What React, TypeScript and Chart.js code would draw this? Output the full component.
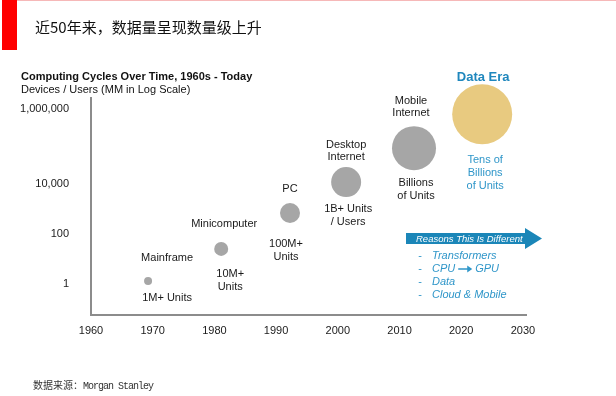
import React, { useEffect, useRef } from "react";
import { Chart, registerables } from "chart.js";

Chart.register(...registerables);

// ---- data ----
const eras = ["Mainframe", "Minicomputer", "PC", "Desktop Internet", "Mobile Internet", "Data Era"];
const eraNameLines = [["Mainframe"], ["Minicomputer"], ["PC"], ["Desktop", "Internet"], ["Mobile", "Internet"], ["Data Era"]];
const eraUnitLines = [["1M+ Units"], ["10M+", "Units"], ["100M+", "Units"], ["1B+ Units", "/ Users"], ["Billions", "of Units"], ["Tens of", "Billions", "of Units"]];
const eraYears = [1969.25, 1981.1, 1992.25, 2001.35, 2012.35, 2023.4];
const eraLogDevices = [0.11, 1.4, 2.84, 4.08, 5.44, 6.8]; // log10(MM devices/users)
const eraBubbleRadius = [4, 7, 10, 15, 22, 30];
const xTickValues = [1960, 1970, 1980, 1990, 2000, 2010, 2020, 2030];
const yTickValues = [0, 2, 4, 7];
const yTickLabels = ["1", "100", "10,000", "1,000,000"];
const reasons = ["Transformers", "CPU→GPU", "Data", "Cloud & Mobile"];

// ---- styles / layout ----
const FONT = "'Liberation Sans', Arial, sans-serif";
const GRAY = "#a6a6a6";
const GOLD = "#e8ca80";
const BLUE = "#2f96c9";
const BLUE_DARK = "#1f87bd";
const BANNER = "#1b86b8";
const bubbleColors = [GRAY, GRAY, GRAY, GRAY, GRAY, GOLD];
// first-line centre offsets relative to bubble centre
const nameOffsets = [[19, -23], [3, -25], [0, -24], [0, -37], [-3, -47], [1, -37]];
const unitOffsets = [[19, 17], [9, 25], [-4, 31], [2, 27], [2, 35], [3, 46]];
const LINE_H = 13;

const annotationPlugin = {
  id: "annotations",
  afterDatasetsDraw(chart: any) {
    const ctx = chart.ctx as CanvasRenderingContext2D;
    const meta = chart.getDatasetMeta(0);
    ctx.save();
    ctx.textAlign = "center";
    ctx.textBaseline = "middle";
    meta.data.forEach((el: any, i: number) => {
      const { x, y } = el.getProps(["x", "y"], true);
      const isData = i === eras.length - 1;
      // name
      ctx.font = isData ? `bold 13px ${FONT}` : `11px ${FONT}`;
      ctx.fillStyle = isData ? BLUE_DARK : "#1a1a1a";
      eraNameLines[i].forEach((t, k) => {
        ctx.fillText(t, x + nameOffsets[i][0], y + nameOffsets[i][1] + k * (LINE_H - 1));
      });
      // units
      ctx.font = `11px ${FONT}`;
      ctx.fillStyle = isData ? BLUE : "#1a1a1a";
      eraUnitLines[i].forEach((t, k) => {
        ctx.fillText(t, x + unitOffsets[i][0], y + unitOffsets[i][1] + k * LINE_H);
      });
    });

    // banner arrow
    const ca = chart.chartArea;
    const bx0 = ca.left + 315;
    const bx1 = ca.left + 434;
    const tip = ca.left + 451;
    const by0 = 233, by1 = 244, hy0 = 228, hy1 = 249;
    ctx.fillStyle = BANNER;
    ctx.beginPath();
    ctx.moveTo(bx0, by0);
    ctx.lineTo(bx1, by0);
    ctx.lineTo(bx1, hy0);
    ctx.lineTo(tip, (hy0 + hy1) / 2);
    ctx.lineTo(bx1, hy1);
    ctx.lineTo(bx1, by1);
    ctx.lineTo(bx0, by1);
    ctx.closePath();
    ctx.fill();
    ctx.fillStyle = "#ffffff";
    ctx.textAlign = "left";
    ctx.font = `italic 9.5px ${FONT}`;
    ctx.fillText("Reasons This Is Different", bx0 + 10, (by0 + by1) / 2 + 0.5);

    // reasons list
    const dashX = ca.left + 329;
    const textX = ca.left + 341;
    reasons.forEach((r, k) => {
      const ly = 256 + k * 13;
      ctx.fillStyle = BLUE;
      ctx.textAlign = "center";
      ctx.font = `11px ${FONT}`;
      ctx.fillText("-", dashX, ly);
      ctx.textAlign = "left";
      ctx.font = `italic 11px ${FONT}`;
      if (r.includes("→")) {
        const [a, b] = r.split("→");
        ctx.fillText(a, textX, ly);
        const wa = ctx.measureText(a).width;
        const ax0 = textX + wa + 3;
        const ax1 = ax0 + 14;
        ctx.strokeStyle = BLUE;
        ctx.lineWidth = 1.5;
        ctx.beginPath();
        ctx.moveTo(ax0, ly);
        ctx.lineTo(ax1 - 4, ly);
        ctx.stroke();
        ctx.beginPath();
        ctx.moveTo(ax1, ly);
        ctx.lineTo(ax1 - 5, ly - 3.5);
        ctx.lineTo(ax1 - 5, ly + 3.5);
        ctx.closePath();
        ctx.fill();
        ctx.fillText(b, ax1 + 3, ly);
      } else {
        ctx.fillText(r, textX, ly);
      }
    });
    ctx.restore();
  },
};

export default function App() {
  const ref = useRef<HTMLCanvasElement>(null);
  useEffect(() => {
    document.body.style.margin = "0";
    const chart = new Chart(ref.current as HTMLCanvasElement, {
      type: "bubble",
      data: {
        labels: eras,
        datasets: [
          {
            label: "Devices / Users",
            data: eraYears.map((x, i) => ({ x, y: eraLogDevices[i], r: eraBubbleRadius[i] })),
            backgroundColor: bubbleColors,
            borderWidth: 0,
            clip: false as any,
          },
        ],
      },
      options: {
        responsive: false,
        animation: false,
        events: [],
        layout: { padding: { left: 0, top: 98, right: 90, bottom: 51 } },
        plugins: { legend: { display: false }, tooltip: { enabled: false } },
        scales: {
          x: {
            type: "linear",
            min: 1960,
            max: 2030.5,
            afterBuildTicks: (s: any) => {
              s.ticks = xTickValues.map((v) => ({ value: v }));
            },
            afterFit: (s: any) => {
              s.height = 30;
            },
            grid: { display: false, drawTicks: false },
            border: { display: true, color: "#8c8c8c", width: 2 },
            ticks: {
              padding: 9,
              color: "#1a1a1a",
              font: { family: FONT, size: 11 },
              maxRotation: 0,
              autoSkip: false,
              callback: (v: any) => String(v),
            },
          },
          y: {
            type: "linear",
            min: -1.25,
            max: 7.45,
            afterBuildTicks: (s: any) => {
              s.ticks = yTickValues.map((v) => ({ value: v }));
            },
            afterFit: (s: any) => {
              s.width = 91;
            },
            grid: { display: false, drawTicks: false },
            border: { display: true, color: "#8c8c8c", width: 2 },
            ticks: {
              padding: 22,
              color: "#1a1a1a",
              font: { family: FONT, size: 11 },
              autoSkip: false,
              callback: (v: any) => {
                const idx = yTickValues.indexOf(Number(v));
                return idx >= 0 ? yTickLabels[idx] : "";
              },
            },
          },
        },
      },
      plugins: [annotationPlugin],
    } as any);
    return () => chart.destroy();
  }, []);

  return (
    <div style={{ position: "fixed", left: 0, top: 0, width: 616, height: 396, background: "#fff", overflow: "hidden" }}>
      <canvas ref={ref} width={616} height={396} style={{ position: "absolute", left: 0, top: 0, width: 616, height: 396 }} />
      <div style={{ position: "absolute", left: 17, top: 0, width: 599, height: 1, background: "#f6b8b8" }} />
      <div style={{ position: "absolute", left: 2, top: 0, width: 15, height: 50, background: "#ff0000" }} />
      <div
        style={{
          position: "absolute",
          left: 35,
          top: 17,
          height: 20,
          lineHeight: "20px",
          fontSize: 15,
          color: "#111",
          fontFamily: "'Noto Sans CJK SC', sans-serif",
          whiteSpace: "nowrap",
        }}
      >
        近50年来，数据量呈现数量级上升
      </div>
      <div
        style={{
          position: "absolute",
          left: 21,
          top: 69,
          lineHeight: "14px",
          fontSize: 11,
          fontWeight: "bold",
          color: "#111",
          fontFamily: FONT,
          whiteSpace: "nowrap",
        }}
      >
        Computing Cycles Over Time, 1960s - Today
      </div>
      <div
        style={{
          position: "absolute",
          left: 21,
          top: 82,
          lineHeight: "14px",
          fontSize: 11,
          color: "#111",
          fontFamily: FONT,
          whiteSpace: "nowrap",
        }}
      >
        Devices / Users (MM in Log Scale)
      </div>
      <div
        style={{
          position: "absolute",
          left: 33,
          top: 378,
          lineHeight: "14px",
          fontSize: 10,
          color: "#333",
          whiteSpace: "nowrap",
        }}
      >
        <span style={{ fontFamily: "'Noto Sans CJK SC', serif" }}>数据来源：</span>
        <span style={{ fontFamily: "'Liberation Mono', monospace", fontSize: 10, letterSpacing: "-1px" }}>Morgan Stanley</span>
      </div>
    </div>
  );
}
